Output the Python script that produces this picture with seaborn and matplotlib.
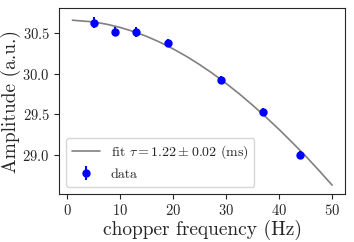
import numpy as np
import pandas as pd
import matplotlib
matplotlib.use("Agg")
import matplotlib.pyplot as plt
import seaborn as sns

# measured points
freq = [5, 9, 13, 19, 29, 37, 44]
amp = [30.63, 30.52, 30.51, 30.38, 29.92, 29.525, 29.0]
amp_err = [0.07, 0.06, 0.06, 0.05, 0.05, 0.05, 0.05]

# fit curve
fit_freq = [1, 5, 7.5, 10, 12.5, 15, 17.5, 20, 22.5, 25, 27.5, 30,
            32.5, 35, 37.5, 40, 42.5, 45, 47.5, 50]
fit_amp = [30.659, 30.638, 30.609, 30.570, 30.520, 30.460, 30.388, 30.306,
           30.214, 30.112, 30.001, 29.880, 29.751, 29.612, 29.466, 29.313,
           29.152, 28.986, 28.810, 28.628]
fit_label = r"fit $\tau = 1.22 \pm 0.02$ (ms)"

sns.set_style("ticks")
plt.rcParams["font.family"] = "serif"
plt.rcParams["font.serif"] = ["cmr10"]
plt.rcParams["mathtext.fontset"] = "cm"
plt.rcParams["axes.formatter.use_mathtext"] = True

fit_df = pd.DataFrame({"f": fit_freq, "A": fit_amp})

fig, ax = plt.subplots(figsize=(3.54, 2.42), dpi=100)
sns.lineplot(data=fit_df, x="f", y="A", color="gray", lw=1.2, label=fit_label, ax=ax)
ax.errorbar(freq, amp, yerr=amp_err, fmt="o", color="blue", ms=5, elinewidth=1.5,
            label="data")
ax.set_xlabel("chopper frequency (Hz)", fontsize=14, labelpad=1)
ax.set_ylabel("Amplitude (a.u.)", fontsize=14, labelpad=1)
ax.tick_params(labelsize=10.5)
ax.set_xticks([0, 10, 20, 30, 40, 50])
ax.set_yticks([29.0, 29.5, 30.0, 30.5])
ax.legend(loc="lower left", fontsize=10)
fig.subplots_adjust(left=0.168, right=0.975, top=0.965, bottom=0.2)
fig.savefig("out.png", dpi=100)
